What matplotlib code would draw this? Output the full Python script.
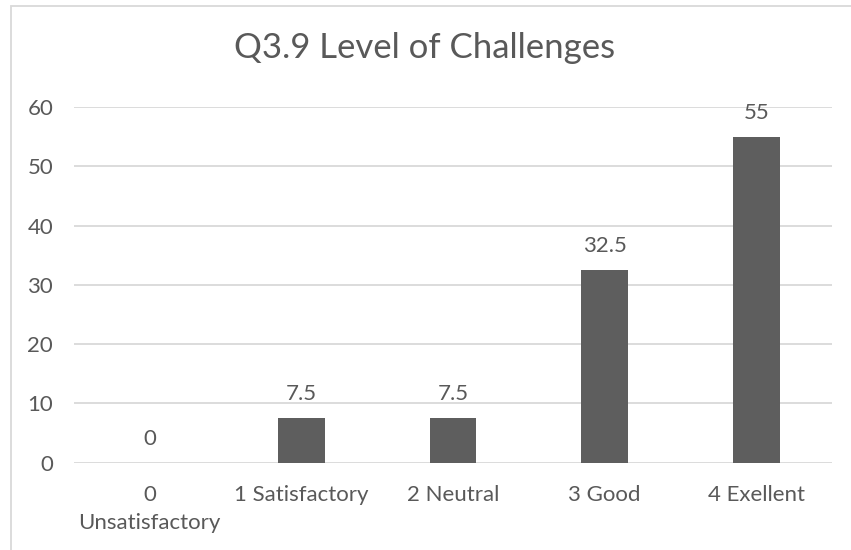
import matplotlib
matplotlib.use("Agg")
import matplotlib.pyplot as plt
from matplotlib.patches import Rectangle

categories = ["0\nUnsatisfactory", "1 Satisfactory", "2 Neutral", "3 Good", "4 Exellent"]
values = [0, 7.5, 7.5, 32.5, 55]
y_ticks = [0, 10, 20, 30, 40, 50, 60]
title = "Q3.9 Level of Challenges"

TEXT = "#595959"
BAR = "#5e5e5e"
GRID = "#d9d9d9"

plt.rcParams["font.family"] = ["Lato", "DejaVu Sans"]

W, H = 851, 550
fig = plt.figure(figsize=(W / 100, H / 100), dpi=100)
fig.patch.set_facecolor("white")

# chart frame
fig.patches.append(Rectangle((11 / W, -0.05), 1.2, (544 / H) + 0.05,
                             transform=fig.transFigure, fill=False,
                             edgecolor=GRID, linewidth=1.3))

ax = fig.add_axes([74 / W, 1 - 462.7 / H, (832 - 74) / W, (462.7 - 107) / H])
x = list(range(len(categories)))
bars = ax.bar(x, values, width=0.31, color=BAR, zorder=3)

ax.set_xlim(-0.5, len(categories) - 0.5)
ax.set_ylim(0, 60)
ax.set_yticks(y_ticks)
ax.set_xticks(x)
ax.set_xticklabels(categories, fontsize=16, color=TEXT, linespacing=1.5)
ax.tick_params(axis="x", length=0, pad=16)
ax.tick_params(axis="y", length=0, pad=15, labelsize=16, labelcolor=TEXT)
ax.yaxis.grid(True, color=GRID, linewidth=1.3, zorder=0)
for s in ax.spines.values():
    s.set_visible(False)

for xi, v in zip(x, values):
    lbl = f"{v:g}"
    ax.annotate(lbl, (xi, v), xytext=(0, 10), textcoords="offset points",
                ha="center", va="bottom", fontsize=16, color=TEXT)

fig.text(425 / W, 1 - 48 / H, title, ha="center", va="center",
         fontsize=25, color=TEXT)

fig.savefig("out.png", dpi=100)
